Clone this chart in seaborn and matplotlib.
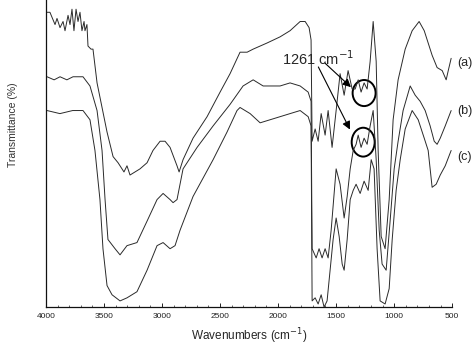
import numpy as np
import pandas as pd
import seaborn as sns
import matplotlib.pyplot as plt
from matplotlib.patches import Ellipse

# spectrum (a)
wn_a = [3991, 3966, 3922, 3905, 3879, 3853, 3836, 3810, 3793, 3776, 3759, 3741, 3724, 3707, 3690,
        3672, 3664, 3647, 3638, 3612, 3595, 3560, 3474, 3422, 3379, 3328, 3302, 3276, 3233, 3190,
        3129, 3078, 3017, 2974, 2931, 2871, 2853, 2819, 2733, 2612, 2500, 2414, 2328, 2267, 2215,
        2095, 1983, 1897, 1810, 1767, 1733, 1716, 1707, 1681, 1655, 1629, 1595, 1569, 1535, 1500,
        1466, 1431, 1397, 1362, 1336, 1310, 1285, 1259, 1233, 1207, 1181, 1155, 1138, 1112, 1078,
        1043, 1009, 966, 905, 845, 785, 741, 707, 673, 630, 586, 552, 534, 509]
t_a = [96, 96, 92, 94, 91, 93, 90, 95, 92, 97, 90, 97, 93, 96, 90,
       93, 90, 92, 85, 84, 84, 73, 57, 49, 47, 44, 46, 43, 44, 45,
       47, 51, 54, 54, 52, 46, 44, 48, 55, 62, 70, 76, 83, 83, 84,
       86, 88, 90, 93, 93, 91, 87, 54, 58, 54, 63, 56, 64, 52, 64,
       76, 69, 77, 71, 71, 74, 70, 73, 71, 80, 93, 80, 51, 23, 19,
       35, 61, 74, 84, 90, 93, 90, 86, 82, 78, 77, 74, 77, 81]

# spectrum (b)
wn_b = [3991, 3930, 3879, 3820, 3767, 3681, 3621, 3560, 3517, 3491, 3466, 3405, 3362, 3302, 3216,
        3129, 3043, 2991, 2931, 2905, 2871, 2819, 2698, 2560, 2414, 2302, 2215, 2129, 1983, 1897,
        1810, 1741, 1716, 1707, 1672, 1647, 1621, 1595, 1569, 1543, 1500, 1466, 1431, 1405, 1379,
        1353, 1328, 1310, 1285, 1259, 1233, 1207, 1181, 1155, 1129, 1104, 1069, 1035, 1000, 966,
        923, 862, 819, 776, 733, 690, 655, 630, 603, 560, 509]
t_b = [75, 74, 75, 74, 75, 75, 72, 64, 51, 35, 22, 19, 17, 20, 21,
       28, 35, 37, 35, 34, 35, 45, 52, 59, 66, 72, 74, 72, 72, 73,
       72, 70, 67, 19, 16, 19, 16, 19, 16, 25, 45, 40, 29, 36, 45,
       51, 53, 56, 52, 55, 53, 59, 64, 48, 25, 14, 12, 28, 45, 54,
       64, 72, 69, 67, 64, 59, 54, 53, 55, 59, 64]

# spectrum (c)
wn_c = [3991, 3880, 3770, 3681, 3621, 3578, 3535, 3509, 3474, 3431, 3362, 3302, 3216, 3129, 3043,
        2991, 2931, 2888, 2845, 2733, 2560, 2440, 2354, 2328, 2241, 2155, 2069, 1983, 1897, 1810,
        1741, 1716, 1707, 1681, 1655, 1629, 1604, 1578, 1552, 1526, 1500, 1474, 1448, 1431, 1405,
        1379, 1353, 1328, 1293, 1259, 1224, 1198, 1173, 1147, 1121, 1078, 1043, 1017, 983, 948,
        905, 845, 793, 741, 707, 673, 638, 603, 560, 509]
t_c = [64, 63, 64, 64, 61, 51, 35, 19, 7, 4, 2, 3, 5, 12, 20,
       21, 19, 20, 25, 36, 48, 57, 64, 65, 63, 60, 61, 62, 63, 64,
       62, 59, 2, 3, 1, 4, 0, 2, 12, 22, 29, 23, 14, 12, 22,
       35, 38, 40, 37, 41, 38, 48, 45, 19, 2, 1, 6, 22, 38, 48,
       58, 64, 61, 55, 51, 39, 40, 43, 46, 51]

labels = ["(a)", "(b)", "(c)"]
label_y = [79.5, 64, 49]

sns.set_style("white")
plt.rcParams['font.family'] = ['Liberation Sans', 'DejaVu Sans']

fig = plt.figure(figsize=(4.77, 3.45), dpi=100)
ax = fig.add_axes([0.0964, 0.110, 0.8516, 0.890])

for wn, t in [(wn_a, t_a), (wn_b, t_b), (wn_c, t_c)]:
    sns.lineplot(x=wn, y=t, ax=ax, sort=False, estimator=None, color='#2a2a2a', lw=0.7)

ax.set_xlim(4000, 500)
ax.set_ylim(0, 100)
ax.set_xticks(np.arange(4000, 499, -500))
ax.set_xticks(np.arange(4000, 499, -100), minor=True)
ax.set_yticks([])
ax.tick_params(axis='x', which='major', direction='in', length=3, width=0.7, labelsize=6, pad=4, colors='#222')
ax.tick_params(axis='x', which='minor', direction='in', length=1.5, width=0.5)
ax.xaxis.set_ticks_position('bottom')
for s in ['top', 'right']:
    ax.spines[s].set_visible(False)
for s in ['left', 'bottom']:
    ax.spines[s].set_linewidth(0.9)
    ax.spines[s].set_color('#111')

ax.set_xlabel('Wavenumbers (cm$^{-1}$)', fontsize=8.5, labelpad=5)
fig.text(0.027, 0.64, 'Transmittance (%)', rotation=90, fontsize=7.5, ha='center', va='center', color='#333')

for lab, y in zip(labels, label_y):
    ax.text(455, y, lab, fontsize=9, ha='left', va='center', clip_on=False)

ax.text(1966, 81, '1261 cm$^{-1}$', fontsize=10.5, ha='left', va='center')
ax.annotate('', xy=(1355, 71), xytext=(1612, 80),
            arrowprops=dict(arrowstyle='-|>', color='k', lw=0.8, mutation_scale=12))
ax.annotate('', xy=(1370, 57), xytext=(1664, 79),
            arrowprops=dict(arrowstyle='-|>', color='k', lw=0.8, mutation_scale=12))
ax.add_patch(Ellipse((1259, 69.7), 198, 8.5, fill=False, lw=1.4, color='k'))
ax.add_patch(Ellipse((1267, 53.7), 198, 9.4, fill=False, lw=1.4, color='k'))

fig.savefig('out.png', dpi=100)
